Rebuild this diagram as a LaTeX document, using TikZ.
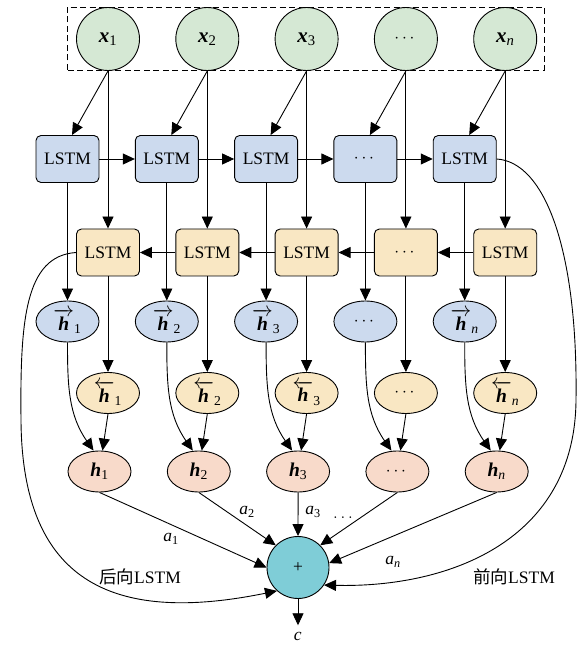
\documentclass[tikz,border=0pt]{standalone}
\usepackage{amsmath,amssymb}
\usepackage{fontspec}
\setmainfont{Liberation Serif}
\newfontfamily\cjkfont{Noto Sans CJK SC}
\usetikzlibrary{arrows.meta,shapes.geometric}

\definecolor{xgreen}{RGB}{213,232,212}
\definecolor{fblue}{RGB}{204,218,238}
\definecolor{byellow}{RGB}{249,231,195}
\definecolor{hpeach}{RGB}{248,218,202}
\definecolor{sumteal}{RGB}{127,205,215}

% bold italic vector with subscript
\newcommand{\xlbl}[2]{{\fontsize{21}{23}\selectfont\textbf{\textit{#1}}\textsubscript{#2}}}
\newcommand{\veclbl}[2]{{\fontsize{19.5}{21}\selectfont\textbf{\textit{#1}}\textsubscript{#2}}}
\newcommand{\arrlbl}[3]{{\fontsize{19.5}{21}\selectfont$#1{\mbox{\bfseries\itshape #2}}$\textsubscript{#3}}}
\newcommand{\wlbl}[2]{{\fontsize{17.5}{20}\selectfont\textit{#1}\textsubscript{#2}}}

\begin{document}
\begin{tikzpicture}[x=1pt,y=1pt,line width=0.9pt,
    font=\fontsize{17.5}{20}\selectfont,
    arr/.style={-{Triangle[length=12pt,width=11pt]}},
    xin/.style={circle,draw,fill=xgreen,minimum size=63pt,inner sep=0pt},
    fwd/.style={rectangle,rounded corners=5pt,draw,fill=fblue,minimum width=63pt,minimum height=47pt,inner sep=0pt},
    bwd/.style={fwd,fill=byellow},
    hf/.style={ellipse,draw,fill=fblue,minimum width=63pt,minimum height=41pt,inner sep=0pt},
    hb/.style={hf,fill=byellow},
    hout/.style={hf,fill=hpeach},
    sumnode/.style={circle,draw,fill=sumteal,minimum size=62pt,inner sep=0pt}]
    \useasboundingbox (0,0) rectangle (587,646);

    % input frame
    \draw[dash pattern=on 6pt off 3.5pt] (67,576) rectangle (544,639);

    % columns
    \foreach \i/\s in {1/1,2/2,3/3,4/4,5/\textit{n}} {
        \pgfmathsetmacro\cx{108+99.3*(\i-1)}
        \node[xin] (x\i) at (\cx,607) {\ifnum\i=4 $\cdots$\else \xlbl{x}{\s}\fi};
        \node[fwd] (f\i) at (\cx-40.5,487) {\ifnum\i=4 $\cdots$\else LSTM\fi};
        \node[bwd] (b\i) at (\cx,393.5) {\ifnum\i=4 $\cdots$\else LSTM\fi};
        \node[hf] (hf\i) at (\cx-40.5,324.5) {\ifnum\i=4 $\cdots$\else \arrlbl{\overrightarrow}{h}{\s}\fi};
        \node[hb] (hb\i) at (\cx,253) {\ifnum\i=4 $\cdots$\else \arrlbl{\overleftarrow}{h}{\s}\fi};
        \node[hout] (h\i) at (\cx-8.5,174.5) {\ifnum\i=4 $\cdots$\else \veclbl{h}{\s}\fi};
    }

    \node[sumnode] (plus) at (298,78.5) {+};
    \node (c) at (298,8.5) {\wlbl{c}{}};

    \foreach \i in {1,...,5} {
        \draw[arr] (x\i.south) -- ([xshift=4.5pt]f\i.north);
        \draw[arr] (x\i.south) -- (b\i.north);
        \draw[arr] (f\i.south) -- (hf\i.north);
        \draw[arr] (b\i.south) -- (hb\i.north);
        \draw[arr] (hf\i.south) to[out=-90,in=125] ([xshift=-6pt]h\i.north);
        \draw[arr] (hb\i.south) -- ([xshift=3pt]h\i.north);
    }
    \foreach \i [count=\j from 2] in {1,...,4} {
        \draw[arr] (f\i.east) -- (f\j.west);
        \draw[arr] (b\j.west) -- (b\i.east);
    }

    % attention weights
    \draw[arr] (h1.south) -- (plus.west);
    \draw[arr] (h2.south) -- (plus.135);
    \draw[arr] (h3.south) -- (plus.north);
    \draw[arr] (h4.south) -- (plus.45);
    \draw[arr] (h5.south) -- (plus.8);
    \node (a1) at (171,107) {\wlbl{a}{1}};
    \node (a2) at (247,134) {\wlbl{a}{2}};
    \node (a3) at (313,134) {\wlbl{a}{3}};
    \node (adots) at (343,128) {$\ldots$};
    \node (an) at (393,84) {\wlbl{a}{\textit{n}}};

    % final states
    \draw[arr] (b1.west) .. controls (25,390) and (20,326) .. (21,226)
        .. controls (22,66) and (110,21) .. (plus.-132);
    \draw[arr] (f5.east) .. controls (545,484) and (578,396) .. (576,246)
        .. controls (575,106) and (450,58) .. (plus.-34);
    \node (bl) at (140,69) {{\cjkfont 后向}LSTM};
    \node (fl) at (514,69) {{\cjkfont 前向}LSTM};

    \draw[arr] (plus.south) -- ([yshift=3pt]c.north);
\end{tikzpicture}
\end{document}
